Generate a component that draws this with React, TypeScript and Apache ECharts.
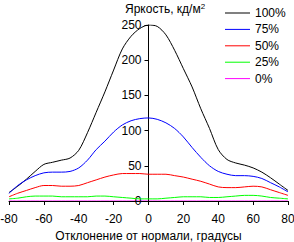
import React, { useEffect, useRef } from "react";
import * as echarts from "echarts";

// Viewing angle, degrees
const angles = [
  -80, -75, -70, -65, -60, -55, -50, -45, -40, -35, -30, -25, -20, -15, -10, -5,
  0, 5, 10, 15, 20, 25, 30, 35, 40, 45, 50, 55, 60, 65, 70, 75, 80,
];

// Luminance, cd/m², per brightness setting
const lum100 = [
  12, 21, 31, 42, 52, 55, 58, 61, 72, 97, 126, 155, 186, 216, 234, 245,
  250, 248, 236, 214, 188, 162, 131, 103, 73, 59, 54, 51, 47, 41, 33, 24, 15,
];
const lum75 = [
  11, 22, 30, 36, 40, 41, 41, 42, 47, 58, 73, 85, 98, 108, 114, 117,
  118, 116, 111, 103, 91, 76, 62, 50, 42, 38, 36, 36, 35, 32, 26, 20, 13,
];
const lum50 = [
  6, 11, 15, 19, 22, 22, 21, 21, 22, 26, 30, 34, 37, 39, 39, 39,
  38, 38, 38, 36, 34, 31, 28, 24, 20, 19, 19, 20, 21, 20, 16, 12, 8,
];
const lum25 = [
  3, 4, 6, 7, 7, 7, 6, 6, 6, 6, 7, 7, 6, 5, 4, 3,
  3, 3, 4, 5, 6, 6, 6, 5, 5, 6, 7, 8, 8, 7, 5, 4, 3,
];
const lum0 = angles.map(() => 0);

const seriesNames = ["100%", "75%", "50%", "25%", "0%"];
const seriesColors = ["#000000", "#0000ff", "#ff0000", "#00ff00", "#ff00ff"];
const seriesValues = [lum100, lum75, lum50, lum25, lum0];

const yTicks = [0, 50, 100, 150, 200, 250];
const xTicks = [-80, -60, -40, -20, 0, 20, 40, 60, 80];

const FONT = "Liberation Sans, Arial, sans-serif";

const GRID_LEFT = 9;
const GRID_RIGHT = 6;
const WIDTH = 294;
const HEIGHT = 242;
// distance from the grid's left edge to the x = 0 position
const zeroOffset =
  ((0 - xTicks[0]) / (xTicks[xTicks.length - 1] - xTicks[0])) *
  (WIDTH - GRID_LEFT - GRID_RIGHT);

export default function App() {
  const ref = useRef<HTMLDivElement>(null);

  useEffect(() => {
    document.body.style.margin = "0";
    const chart = echarts.init(ref.current!, null, { renderer: "svg" });
    chart.setOption({
      animation: false,
      backgroundColor: "#ffffff",
      textStyle: { fontFamily: FONT },
      grid: {
        left: GRID_LEFT,
        right: GRID_RIGHT,
        top: 25,
        bottom: 41,
        containLabel: false,
        outerBoundsMode: "none",
      },
      legend: {
        orient: "vertical",
        left: 225,
        top: 6,
        padding: 0,
        icon: "rect",
        itemWidth: 25,
        itemHeight: 1,
        itemGap: 2.4,
        data: seriesNames,
        textStyle: { color: "#000", fontSize: 12, lineHeight: 14, fontFamily: FONT },
      },
      graphic: [
        {
          type: "text",
          left: 125,
          top: 2,
          style: {
            text: "Яркость, кд/м{s|2}",
            fill: "#000",
            font: `12px ${FONT}`,
            rich: { s: { fontSize: 8, verticalAlign: "top", padding: [0, 0, 6, 0] } },
          },
        },
      ],
      xAxis: {
        type: "value",
        min: xTicks[0],
        max: xTicks[xTicks.length - 1],
        interval: 20,
        name: "Отклонение от нормали, градусы",
        nameLocation: "middle",
        nameGap: 29,
        nameTextStyle: { color: "#000", fontSize: 12, fontFamily: FONT },
        axisLine: { onZero: false, lineStyle: { color: "#000", width: 1 } },
        axisTick: { show: true, inside: false, length: 4, lineStyle: { color: "#000" } },
        axisLabel: { color: "#000", fontSize: 12, margin: 12, fontFamily: FONT },
        splitLine: { show: false },
      },
      yAxis: {
        type: "value",
        position: "left",
        offset: -zeroOffset,
        min: yTicks[0],
        max: yTicks[yTicks.length - 1],
        interval: 50,
        axisLine: { show: true, onZero: false, lineStyle: { color: "#000", width: 1 } },
        axisTick: { show: true, inside: false, length: 4, lineStyle: { color: "#000" } },
        axisLabel: { color: "#000", fontSize: 12, margin: 7, fontFamily: FONT },
        splitLine: { show: false },
      },
      series: seriesNames.map((name, i) => ({
        name,
        type: "line",
        data: angles.map((a, j) => [a, seriesValues[i][j]]),
        smooth: 0.3,
        symbol: "none",
        z: i === 4 ? -1 : 2,
        lineStyle: { color: seriesColors[i], width: 1 },
        itemStyle: { color: seriesColors[i] },
      })),
    });
    return () => chart.dispose();
  }, []);

  return <div ref={ref} style={{ width: WIDTH, height: HEIGHT }} />;
}
